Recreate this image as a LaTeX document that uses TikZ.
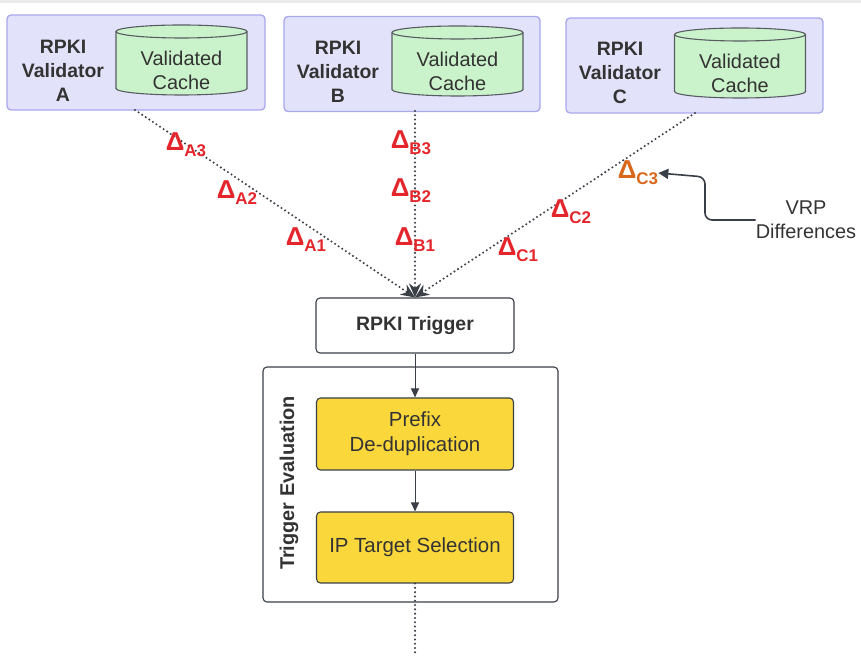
\documentclass[tikz,border=0pt]{standalone}
\usepackage{fontspec}
\setmainfont{Liberation Sans}
\usetikzlibrary{arrows.meta}
\definecolor{lav}{HTML}{E2E2FA}
\definecolor{lavb}{HTML}{A8A8EE}
\definecolor{cylg}{HTML}{CBF3CB}
\definecolor{dk}{HTML}{3A3F47}
\definecolor{ylw}{HTML}{FAD83C}
\definecolor{dred}{HTML}{E4262C}
\definecolor{dorg}{HTML}{D8671C}
\definecolor{txt}{HTML}{333333}
\newcommand{\fs}[2]{\fontsize{#1}{#2}\selectfont}
\newcommand{\dlt}[1]{{\fs{26}{28}\bfseries Δ}\raisebox{-6bp}{\fs{17}{18}\bfseries #1}}
\newcommand{\drawcyl}[3]{%
  \draw[cylstyle] ({#1-65.5},{#2-6.5}) -- ({#1-65.5},{#3+6.5})
    arc[start angle=180,end angle=360,x radius=65.5,y radius=6.5]
    -- ({#1+65.5},{#2-6.5})
    arc[start angle=0,end angle=180,x radius=65.5,y radius=6.5] -- cycle;
  \draw[cylstyle,fill=none] ({#1-65.5},{#2-6.5})
    arc[start angle=180,end angle=360,x radius=65.5,y radius=6.5];}
\begin{document}
\begin{tikzpicture}[x=1bp,y=1bp,
  valbox/.style={draw=lavb,fill=lav,line width=1.3bp,rounded corners=4bp,minimum width=#1,minimum height=95bp,inner sep=0pt},
  cylstyle/.style={draw=dk!85,fill=cylg,line width=1.1bp},
  lbl/.style={font=\fs{19.5}{24}\bfseries,text=txt,align=center,inner sep=0pt},
  cachetxt/.style={font=\fs{20}{24}\selectfont,text=txt,align=center,inner sep=0pt},
  wbox/.style={draw=dk,fill=white,line width=1.1bp,rounded corners=4bp,inner sep=0pt},
  ybox/.style={draw=dk,fill=ylw,line width=1.1bp,rounded corners=4bp,inner sep=0pt,minimum width=197bp,font=\fs{20.5}{25},text=txt,align=center},
  dots/.style={dk,line width=2.3bp,line cap=round,dash pattern=on 0bp off 4.3bp},
  dothead/.style={-{Stealth[length=14bp,width=12bp]}},
  solarr/.style={dk,line width=1bp,-{Triangle[length=9bp,width=8bp]}},
  dl/.style={text=dred,inner sep=0pt},
]
\useasboundingbox (0,0) rectangle (861,656);
\fill[black!8] (0,653) rectangle (861,656);

% validator boxes
\node[valbox=258bp] (vA) at (136,593.5) {};
\node[valbox=256bp] (vB) at (412,592) {};
\node[valbox=257bp] (vC) at (694.5,590.5) {};

\drawcyl{181.5}{631}{561}
\drawcyl{457.5}{630}{560}
\drawcyl{740}{628}{558}

\node[lbl] (lA) at (63,585) {RPKI\\Validator\\A};
\node[lbl] (lB) at (338,584) {RPKI\\Validator\\B};
\node[lbl] (lC) at (620,583) {RPKI\\Validator\\C};
\node[cachetxt] (cA) at (181.5,586) {Validated\\Cache};
\node[cachetxt] (cB) at (457.5,585) {Validated\\Cache};
\node[cachetxt] (cC) at (740,583) {Validated\\Cache};

% trigger
\node[wbox,minimum width=198bp,minimum height=55bp,font=\fs{19.5}{22}\bfseries,text=txt] (trig) at (415,330.5) {RPKI Trigger};
\node[wbox,minimum width=295bp,minimum height=235bp] (eval) at (410.5,171.5) {};
\node[font=\fs{20}{22}\bfseries,text=txt,rotate=90,inner sep=0pt] (evlbl) at (289,173) {Trigger Evaluation};
\node[ybox,minimum height=72bp] (pref) at (415,222) {Prefix\\De-duplication};
\node[ybox,minimum height=71bp] (ipt) at (415,108.5) {IP Target Selection};

% connectors
\coordinate (sA) at (135,546);
\coordinate (sB) at (415,545);
\coordinate (sC) at (695,543);
\draw[dots,dothead] (sA) -- (trig.north);
\draw[dots,dothead] (sB) -- (trig.north);
\draw[dots,dothead] (sC) -- (trig.north);
\draw[solarr] (trig.south) -- (pref.north);
\draw[solarr] (pref.south) -- (ipt.north);
\coordinate (bot) at (415,2);
\draw[dots] (ipt.south) -- (bot);

% deltas
\node[dl] (dA3) at (186,511) {\dlt{A3}};
\node[dl] (dA2) at (237,463) {\dlt{A2}};
\node[dl] (dA1) at (306,416) {\dlt{A1}};
\node[dl] (dB3) at (411,513) {\dlt{B3}};
\node[dl] (dB2) at (411,465) {\dlt{B2}};
\node[dl] (dB1) at (415,416) {\dlt{B1}};
\node[dl] (dC1) at (518,406) {\dlt{C1}};
\node[dl] (dC2) at (571,444) {\dlt{C2}};
\node[dl,text=dorg] (dC3) at (638,483) {\dlt{C3}};

% VRP
\node[font=\fs{20}{24},text=txt,align=center,inner sep=0pt] (vrp) at (806,436) {VRP\\Differences};
\draw[dk,line width=1.6bp,rounded corners=7bp,-{Triangle[length=10bp,width=10bp]}]
  (vrp.west) -- (705,436) -- (705,479) -- (dC3.east);
\end{tikzpicture}
\end{document}
